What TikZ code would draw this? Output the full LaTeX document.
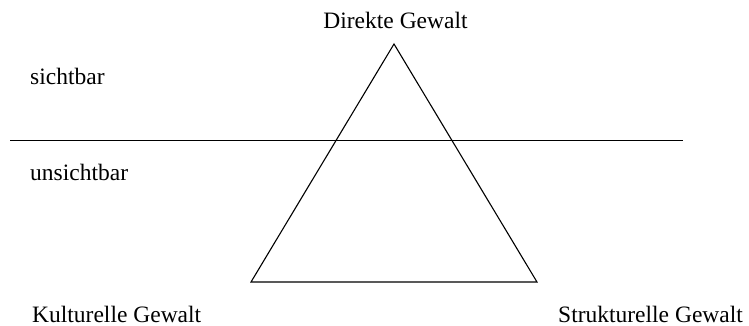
\documentclass[tikz,border=0pt]{standalone}
\usepackage{fontspec}
\setmainfont{Liberation Serif}
\begin{document}
\begin{tikzpicture}[x=1pt,y=-1pt,
  lbl/.style={inner sep=0pt,font=\fontsize{23.5}{28}\selectfont},
  tri/.style={line width=1.1pt,line join=miter},
  sep/.style={line width=1.8pt}]
\useasboundingbox (0,0) rectangle (749,326);
% triangle
\coordinate (apex) at (394,44);
\coordinate (bl) at (251,282);
\coordinate (br) at (537,282);
\draw[tri] (apex) -- (bl) -- (br) -- cycle;
% separator line
\coordinate (l1) at (10,140.5);
\coordinate (l2) at (683,140.5);
\draw[sep] (l1) -- (l2);
% labels
\node[lbl,anchor=base] (direkt) at (395.5,29) {Direkte Gewalt};
\node[lbl,anchor=base west] (sicht) at (30,85) {sichtbar};
\node[lbl,anchor=base west] (unsicht) at (30,180) {unsichtbar};
\node[lbl,anchor=base west] (kult) at (32,322) {Kulturelle Gewalt};
\node[lbl,anchor=base west] (struk) at (558,322) {Strukturelle Gewalt};
\end{tikzpicture}
\end{document}
